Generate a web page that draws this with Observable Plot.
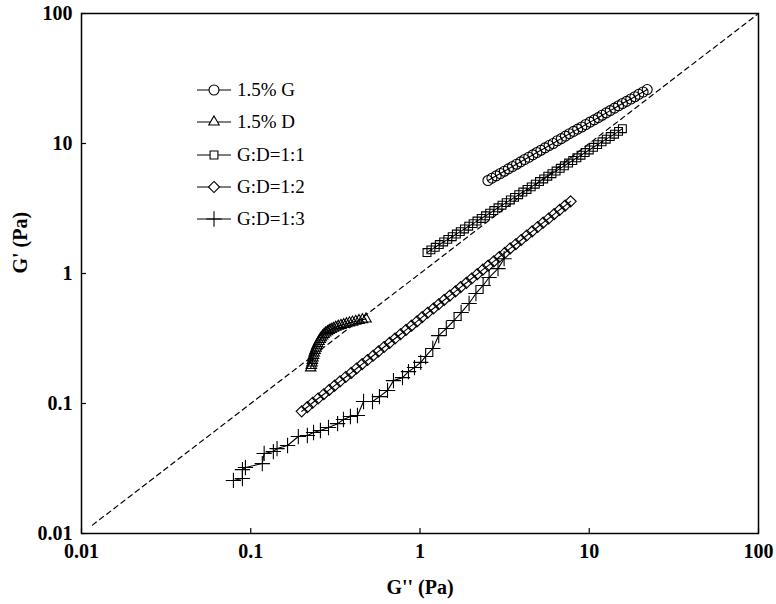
<!DOCTYPE html>
<html><head><meta charset="utf-8">
<script src="https://cdn.jsdelivr.net/npm/d3@7"></script>
<script src="https://cdn.jsdelivr.net/npm/@observablehq/plot@0.6"></script>
<style>
body{margin:0;background:#fff;}
#wrap{position:relative;width:776px;height:604px;}
#legend{position:absolute;left:195px;top:74px;font-family:"Liberation Serif",serif;font-size:19px;color:#000;}
.row{display:flex;align-items:center;height:32.3px;white-space:nowrap;}
.row svg{margin-right:4px;}
</style></head><body><div id="wrap"><div id="legend"></div></div>
<script>
// Series names and symbols
const seriesNames = ["1.5% G", "1.5% D", "G:D=1:1", "G:D=1:2", "G:D=1:3"];
const seriesSymbols = ["circle", "triangle2", "square2", "diamond2", "plus"];

// 1.5% G (circles)
const gX = [2.52,2.66,2.82,2.98,3.15,3.33,3.52,3.72,3.93,4.15,4.39,4.64,4.90,5.18,5.48,5.79,6.12,6.47,6.84,7.23,7.64,8.08,8.54,9.03,9.54,10.1,10.7,11.3,11.9,12.6,13.3,14.1,14.9,15.7,16.6,17.6,18.6,19.6,20.8,22.0];
const gY = [5.19,5.41,5.64,5.88,6.12,6.38,6.65,6.93,7.22,7.53,7.84,8.17,8.52,8.88,9.25,9.64,10.0,10.5,10.9,11.4,11.9,12.4,12.9,13.4,14.0,14.6,15.2,15.8,16.5,17.2,17.9,18.7,19.5,20.3,21.1,22.0,22.9,23.9,24.9,26.0];

// 1.5% D (triangles)
const dX = [0.226,0.228,0.230,0.231,0.233,0.235,0.237,0.240,0.243,0.246,0.249,0.253,0.257,0.261,0.266,0.271,0.277,0.284,0.291,0.299,0.308,0.318,0.329,0.341,0.354,0.368,0.383,0.399,0.417,0.436,0.457,0.48];
const dY = [0.188,0.196,0.205,0.214,0.224,0.234,0.245,0.256,0.267,0.278,0.289,0.300,0.311,0.321,0.331,0.340,0.349,0.357,0.365,0.372,0.379,0.386,0.393,0.399,0.405,0.411,0.417,0.423,0.429,0.435,0.441,0.447];

// G:D=1:1 (squares)
const s11X = [1.10,1.16,1.23,1.30,1.38,1.46,1.55,1.64,1.73,1.83,1.94,2.06,2.17,2.30,2.44,2.58,2.73,2.89,3.05,3.23,3.42,3.62,3.83,4.05,4.29,4.54,4.80,5.08,5.38,5.69,6.02,6.37,6.74,7.13,7.55,7.99,8.45,8.94,9.46,10.0,10.6,11.2,11.9,12.6,13.3,14.1,14.9,15.7];
const s11Y = [1.45,1.52,1.59,1.67,1.75,1.83,1.92,2.01,2.10,2.20,2.31,2.42,2.53,2.65,2.78,2.91,3.05,3.20,3.35,3.51,3.68,3.85,4.04,4.23,4.43,4.64,4.86,5.10,5.34,5.60,5.86,6.14,6.44,6.74,7.07,7.40,7.76,8.13,8.52,8.92,9.35,9.80,10.3,10.8,11.3,11.8,12.4,13.0];

// G:D=1:2 (diamonds)
const s12X = [0.200,0.216,0.232,0.250,0.270,0.291,0.313,0.337,0.364,0.392,0.422,0.455,0.490,0.528,0.569,0.613,0.661,0.712,0.767,0.827,0.891,0.960,1.03,1.11,1.20,1.29,1.39,1.50,1.62,1.74,1.88,2.02,2.18,2.35,2.53,2.73,2.94,3.17,3.41,3.68,3.96,4.27,4.60,4.96,5.34,5.76,6.20,6.69,7.20,7.76];
const s12Y = [0.087,0.0939,0.1013,0.1093,0.1179,0.1272,0.1372,0.148,0.160,0.172,0.186,0.201,0.216,0.233,0.252,0.272,0.293,0.316,0.341,0.368,0.397,0.428,0.462,0.499,0.538,0.580,0.626,0.676,0.729,0.786,0.848,0.915,0.988,1.07,1.15,1.24,1.34,1.44,1.56,1.68,1.81,1.96,2.11,2.28,2.46,2.65,2.86,3.09,3.33,3.59];

// G:D=1:3 (plus)
const s13X = [0.079,0.0893,0.0893,0.093,0.117,0.120,0.136,0.143,0.165,0.191,0.216,0.235,0.258,0.288,0.326,0.353,0.388,0.427,0.464,0.524,0.576,0.643,0.697,0.788,0.855,0.928,1.01,1.08,1.19,1.29,1.43,1.59,1.75,1.95,2.14,2.36,2.56,2.89,3.14];
const s13Y = [0.0256,0.0265,0.031,0.0322,0.0345,0.0413,0.0427,0.045,0.0475,0.0557,0.0567,0.0598,0.062,0.0654,0.070,0.0753,0.0794,0.0809,0.1036,0.1036,0.113,0.126,0.150,0.158,0.176,0.189,0.207,0.230,0.265,0.333,0.378,0.435,0.501,0.588,0.702,0.809,0.931,1.09,1.30];

// Reference line G' = G''
const diagX = [0.0116, 100];
const diagY = [0.0116, 100];

// Tick values / labels
const xTicks = [0.01, 0.1, 1, 10, 100];
const xTickLabels = ["0.01", "0.1", "1", "10", "100"];
const yTicks = [0.01, 0.1, 1, 10, 100];
const yTickLabels = ["0.01", "0.1", "1", "10", "100"];
const xTitle = "G'' (Pa)";
const yTitle = "G' (Pa)";

const seriesXs = [gX, dX, s11X, s12X, s13X];
const seriesYs = [gY, dY, s11Y, s12Y, s13Y];
const rows = seriesNames.flatMap((name, k) => seriesXs[k].map((x, i) => ({series: name, x, y: seriesYs[k][i]})));
const diag = diagX.map((x, i) => ({x, y: diagY[i]}));
const xLabelOf = d => xTickLabels[xTicks.findIndex(t => Math.abs(t - d) / t < 1e-6)];
const yLabelOf = d => yTickLabels[yTicks.findIndex(t => Math.abs(t - d) / t < 1e-6)];

const chart = Plot.plot({
  width: 776, height: 604,
  marginLeft: 81, marginRight: 18, marginTop: 13, marginBottom: 71,
  style: {fontFamily: "Liberation Serif, serif", fontSize: "20px", fontWeight: "bold", background: "white", color: "black", overflow: "visible"},
  x: {type: "log", domain: [0.01, 100]},
  y: {type: "log", domain: [0.01, 100]},
  symbol: {domain: seriesNames, range: seriesSymbols},
  marks: [
    Plot.line(diag, {x: "x", y: "y", stroke: "black", strokeWidth: 1.2, strokeDasharray: "5,4"}),
    Plot.line(rows, {x: "x", y: "y", z: "series", stroke: "black", strokeWidth: 1.1}),
    Plot.dot(rows, {x: "x", y: "y", symbol: "series", r: 5, stroke: "black", fill: "none", strokeWidth: 1.1}),
    Plot.frame({stroke: "black", strokeWidth: 1.5}),
    Plot.axisX({ticks: xTicks, tickSize: -5, label: null, strokeWidth: 1.2, text: null}),
    Plot.axisY({ticks: yTicks, tickSize: -5, label: null, strokeWidth: 1.2, text: null}),
    Plot.text(xTicks, {x: d => d, text: xLabelOf, frameAnchor: "bottom", dy: 24, fontSize: 20, fontWeight: "bold"}),
    Plot.text(yTicks, {y: d => d, text: yLabelOf, frameAnchor: "left", dx: -9, textAnchor: "end", fontSize: 20, fontWeight: "bold"}),
    Plot.text([xTitle], {text: d => d, frameAnchor: "bottom", dy: 60, fontSize: 20, fontWeight: "bold"}),
    Plot.text([yTitle], {text: d => d, frameAnchor: "left", dx: -61, rotate: -90, fontSize: 20, fontWeight: "bold"})
  ]
});
document.getElementById("wrap").prepend(chart);

// Legend (HTML overlay)
const legend = d3.select("#legend");
const symMap = {circle: d3.symbolCircle, triangle2: d3.symbolTriangle2, square2: d3.symbolSquare2, diamond2: d3.symbolDiamond2, plus: d3.symbolPlus};
seriesNames.forEach((name, k) => {
  const row = legend.append("div").attr("class", "row");
  const svg = row.append("svg").attr("width", 38).attr("height", 20);
  svg.append("line").attr("x1", 2).attr("x2", 36).attr("y1", 10).attr("y2", 10).attr("stroke", "black").attr("stroke-width", 1);
  svg.append("path").attr("transform", "translate(19,10)")
    .attr("d", d3.symbol(symMap[seriesSymbols[k]], 25 * Math.PI)())
    .attr("fill", seriesSymbols[k] === "plus" ? "none" : "white").attr("stroke", "black").attr("stroke-width", 1.1);
  row.append("span").text(name);
});
</script>
</body></html>
